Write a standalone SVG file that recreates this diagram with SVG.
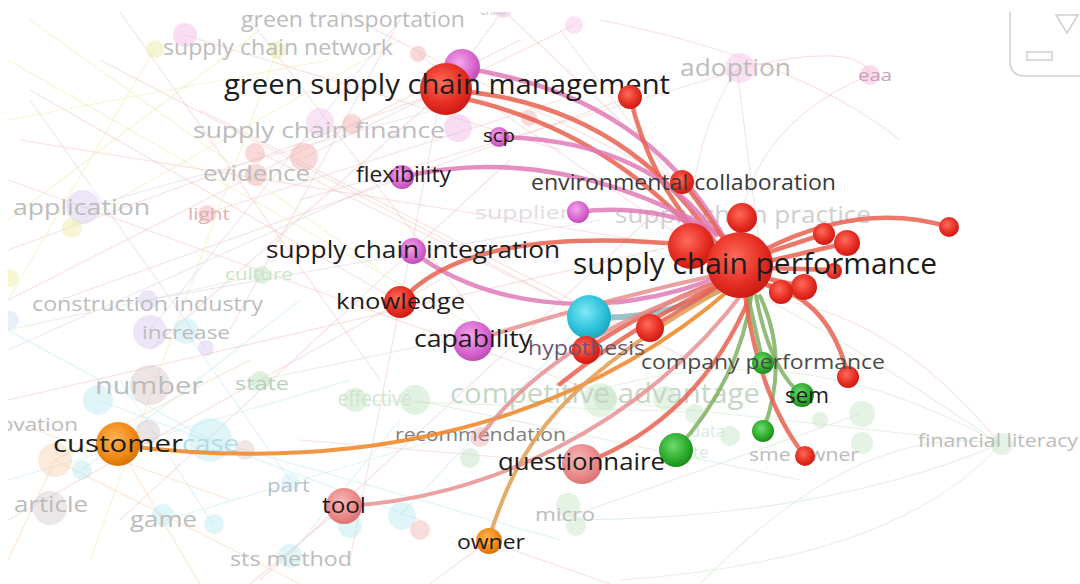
<svg xmlns="http://www.w3.org/2000/svg" width="1080" height="584" viewBox="0 0 1080 584">
<style>
text{font-family:"Open Sans","Noto Sans","DejaVu Sans",sans-serif}
.lb{fill:#1c1c1c}
.fa{fill:#bcbcbc}
.bg line,.bg path{fill:none;stroke-width:1.1}
.bp{stroke:#f3c4c4;opacity:.5}
.by{stroke:#ecefb8;opacity:.6}
.bl{stroke:#ded0ee;opacity:.5}
.bc{stroke:#c8ecf2;opacity:.6}
.bo{stroke:#f8d8b8;opacity:.6}
.bgn{stroke:#d4ead4;opacity:.65}
.e{fill:none;stroke-linecap:round}
.er{stroke:#e8604f;stroke-width:4.5;opacity:.85}
.ep{stroke:#e07ab6;stroke-width:4.5;opacity:.85}
.eo{stroke:#f08c30;stroke-width:4;opacity:.9}
.et{stroke:#e2a25a;stroke-width:4;opacity:.9}
.eg{stroke:#7fb062;stroke-width:4;opacity:.85}
.es{stroke:#e89090;stroke-width:4;opacity:.85}
.fn{opacity:.45}
</style>
<defs>
<radialGradient id="gR" cx="0.42" cy="0.38" r="0.7"><stop offset="0" stop-color="#ff6b5a"/><stop offset="0.6" stop-color="#e52c22"/><stop offset="1" stop-color="#c2160f"/></radialGradient>
<radialGradient id="gP" cx="0.42" cy="0.38" r="0.7"><stop offset="0" stop-color="#f4a8ec"/><stop offset="0.6" stop-color="#d865d0"/><stop offset="1" stop-color="#b446ab"/></radialGradient>
<radialGradient id="gC" cx="0.42" cy="0.38" r="0.7"><stop offset="0" stop-color="#80e8f6"/><stop offset="0.6" stop-color="#2cc2da"/><stop offset="1" stop-color="#1a9cb4"/></radialGradient>
<radialGradient id="gO" cx="0.42" cy="0.38" r="0.7"><stop offset="0" stop-color="#ffb454"/><stop offset="0.6" stop-color="#f08a18"/><stop offset="1" stop-color="#d06a00"/></radialGradient>
<radialGradient id="gG" cx="0.42" cy="0.38" r="0.7"><stop offset="0" stop-color="#6edc6e"/><stop offset="0.6" stop-color="#2dab2d"/><stop offset="1" stop-color="#168216"/></radialGradient>
<radialGradient id="gS" cx="0.42" cy="0.38" r="0.7"><stop offset="0" stop-color="#f9b8b8"/><stop offset="0.6" stop-color="#eb8a8a"/><stop offset="1" stop-color="#d86a6a"/></radialGradient>
<clipPath id="plot"><rect x="8" y="12" width="1072" height="572"/></clipPath>
</defs>
<rect width="1080" height="584" fill="#ffffff"/>
<g clip-path="url(#plot)">
<g class="bg" id="background-links">
<line class="bp" x1="20" y1="140" x2="700" y2="250"/>
<line class="bp" x1="100" y1="60" x2="560" y2="300"/>
<line class="bp" x1="250" y1="20" x2="480" y2="320"/>
<line class="bp" x1="8" y1="250" x2="445" y2="90"/>
<line class="bp" x1="150" y1="350" x2="445" y2="90"/>
<line class="bp" x1="300" y1="200" x2="740" y2="70"/>
<line class="bp" x1="560" y1="30" x2="738" y2="265"/>
<line class="bp" x1="200" y1="110" x2="690" y2="360"/>
<line class="bp" x1="60" y1="300" x2="630" y2="97"/>
<line class="bp" x1="400" y1="20" x2="230" y2="330"/>
<line class="bp" x1="8" y1="180" x2="620" y2="400"/>
<line class="bp" x1="350" y1="560" x2="440" y2="100"/>
<line class="bp" x1="120" y1="520" x2="510" y2="160"/>
<line class="bp" x1="8" y1="400" x2="700" y2="240"/>
<line class="bp" x1="260" y1="580" x2="680" y2="190"/>
<line class="bp" x1="305" y1="157" x2="574" y2="25"/>
<line class="bp" x1="258" y1="152" x2="600" y2="320"/>
<line class="bp" x1="418" y1="54" x2="700" y2="250"/>
<line class="bp" x1="185" y1="35" x2="560" y2="150"/>
<line class="bp" x1="208" y1="213" x2="560" y2="100"/>
<line class="bp" x1="488" y1="541" x2="430" y2="584"/>
<line class="bp" x1="488" y1="541" x2="610" y2="584"/>
<line class="bp" x1="344" y1="506" x2="250" y2="584"/>
<line class="bp" x1="300" y1="440" x2="580" y2="464"/>
<line class="bp" x1="503" y1="10" x2="445" y2="90"/>
<line class="bp" x1="503" y1="10" x2="620" y2="120"/>
<line class="bp" x1="8" y1="520" x2="440" y2="280"/>
<line class="bp" x1="30" y1="90" x2="400" y2="302"/>
<line class="bp" x1="120" y1="12" x2="380" y2="380"/>
<line class="bp" x1="8" y1="300" x2="520" y2="40"/>
<line class="bp" x1="340" y1="12" x2="680" y2="182"/>
<line class="by" x1="8" y1="60" x2="480" y2="330"/>
<line class="by" x1="155" y1="48" x2="8" y2="300"/>
<line class="by" x1="277" y1="50" x2="90" y2="560"/>
<line class="by" x1="8" y1="120" x2="330" y2="60"/>
<line class="by" x1="30" y1="20" x2="380" y2="270"/>
<line class="by" x1="8" y1="220" x2="260" y2="30"/>
<line class="by" x1="72" y1="225" x2="400" y2="40"/>
<line class="bl" x1="83" y1="208" x2="470" y2="100"/>
<line class="bl" x1="150" y1="330" x2="400" y2="20"/>
<line class="bl" x1="8" y1="350" x2="410" y2="170"/>
<line class="bl" x1="148" y1="300" x2="600" y2="220"/>
<line class="bl" x1="205" y1="348" x2="30" y2="100"/>
<line class="bc" x1="98" y1="400" x2="420" y2="520"/>
<line class="bc" x1="210" y1="440" x2="560" y2="540"/>
<line class="bc" x1="8" y1="480" x2="350" y2="380"/>
<line class="bc" x1="163" y1="521" x2="470" y2="430"/>
<line class="bc" x1="290" y1="555" x2="400" y2="420"/>
<line class="bc" x1="82" y1="470" x2="300" y2="300"/>
<line class="bc" x1="400" y1="515" x2="589" y2="317"/>
<line class="bc" x1="213" y1="524" x2="120" y2="380"/>
<line class="bc" x1="185" y1="330" x2="290" y2="480"/>
<line class="bc" x1="8" y1="330" x2="210" y2="440"/>
<line class="bo" x1="55" y1="460" x2="8" y2="560"/>
<line class="bo" x1="55" y1="460" x2="300" y2="584"/>
<line class="bo" x1="118" y1="445" x2="200" y2="584"/>
<line class="bo" x1="8" y1="420" x2="230" y2="500"/>
<line class="bo" x1="55" y1="460" x2="250" y2="360"/>
<path class="bgn" d="M1000,444 Q800,330 600,390"/>
<path class="bgn" d="M1000,444 Q820,520 560,520"/>
<path class="bgn" d="M1000,444 Q760,280 650,250"/>
<path class="bgn" d="M700,584 Q860,420 1000,444"/>
<path class="bgn" d="M1000,444 Q900,560 620,580"/>
<line class="bgn" x1="860" y1="414" x2="560" y2="520"/>
<line class="bgn" x1="600" y1="400" x2="1000" y2="444"/>
<line class="bgn" x1="8" y1="330" x2="262" y2="275"/>
<line class="bgn" x1="260" y1="380" x2="640" y2="300"/>
<line class="bgn" x1="415" y1="400" x2="800" y2="480"/>
<line class="bgn" x1="355" y1="400" x2="690" y2="412"/>
<path class="bp" d="M737,69 Q860,40 870,75"/>
<path class="bp" d="M870,75 Q760,120 740,220"/>
<line class="bp" x1="737" y1="69" x2="760" y2="250"/>
<path class="bp" d="M737,69 Q690,140 690,240"/>
<path class="bp" d="M600,20 Q800,60 900,140"/>
<path class="bp" d="M780,300 Q900,320 1000,444"/>
</g>
<g id="faint-nodes">
<g id="n-green-transportation"><text class="fa" x="241" y="27" font-size="21" textLength="224" lengthAdjust="spacingAndGlyphs">green transportation</text></g>
<g id="n-child"><circle class="fn" cx="503" cy="9" r="9" fill="#f0b8e0"/><text x="480" y="15" font-size="16" fill="#c8c8c8" textLength="26" lengthAdjust="spacingAndGlyphs">child</text></g>
<g id="n-supply-chain-network"><circle class="fn" cx="155" cy="49" r="9" fill="#e2ec9c"/><circle class="fn" cx="277" cy="50" r="9" fill="#e2ec9c"/><circle class="fn" cx="185" cy="35" r="12" fill="#f2b4e4"/><text class="fa" x="163" y="55" font-size="21" textLength="230" lengthAdjust="spacingAndGlyphs">supply chain network</text></g>
<g id="n-misc1"><circle class="fn" cx="418" cy="54" r="8" fill="#f2a8a8"/><circle class="fn" cx="574" cy="25" r="9" fill="#f2c0e8"/><circle class="fn" cx="529" cy="118" r="8" fill="#f2b0b0"/></g>
<g id="n-adoption"><circle class="fn" cx="740" cy="68" r="15" fill="#f4bce8"/><text class="fa" x="680" y="76" font-size="24" textLength="111" lengthAdjust="spacingAndGlyphs">adoption</text></g>
<g id="n-eaa"><circle class="fn" cx="870" cy="75" r="10" fill="#f2b4d4"/><text x="858" y="81" font-size="17" fill="#c9a0b8" textLength="34" lengthAdjust="spacingAndGlyphs">eaa</text></g>
<g id="n-supply-chain-finance"><circle class="fn" cx="320" cy="122" r="14" fill="#f2c4ee"/><circle class="fn" cx="352" cy="124" r="10" fill="#f2a8a8"/><circle class="fn" cx="458" cy="128" r="14" fill="#f0b4e8"/><text class="fa" x="193" y="138" font-size="22" textLength="252" lengthAdjust="spacingAndGlyphs">supply chain finance</text></g>
<g id="n-evidence"><circle class="fn" cx="255" cy="153" r="10" fill="#f2a8a8"/><circle class="fn" cx="304" cy="157" r="14" fill="#f2a8a8"/><circle class="fn" cx="256" cy="175" r="11" fill="#f2a8a8"/><text class="fa" x="203" y="181" font-size="22" textLength="107" lengthAdjust="spacingAndGlyphs">evidence</text></g>
<g id="n-application"><circle class="fn" cx="83" cy="207" r="17" fill="#d8c8f0"/><circle class="fn" cx="72" cy="228" r="10" fill="#ecec9c"/><text class="fa" x="13" y="215" font-size="21" textLength="137" lengthAdjust="spacingAndGlyphs">application</text></g>
<g id="n-light"><circle class="fn" cx="207" cy="214" r="9" fill="#f0a8b0"/><text x="188" y="220" font-size="16" fill="#e0b0b0" textLength="42" lengthAdjust="spacingAndGlyphs">light</text></g>
<g id="n-supplier"><text x="475" y="219" font-size="18" fill="#e4dce4" textLength="95" lengthAdjust="spacingAndGlyphs">supplier</text></g>
<g id="n-supply-chain-practice"><text x="615" y="223" font-size="23" fill="#cfcfcf" textLength="256" lengthAdjust="spacingAndGlyphs">supply chain practice</text></g>
<g id="n-left-edge"><circle class="fn" cx="10" cy="278" r="9" fill="#ecec9c"/><circle class="fn" cx="10" cy="320" r="9" fill="#d0d8f4"/></g>
<g id="n-culture"><circle class="fn" cx="262" cy="275" r="9" fill="#b8e0b8"/><text x="225" y="280" font-size="17" fill="#c8e4c8" textLength="68" lengthAdjust="spacingAndGlyphs">culture</text></g>
<g id="n-construction-industry"><circle class="fn" cx="148" cy="300" r="10" fill="#d8c8f0"/><text class="fa" x="32" y="311" font-size="20" textLength="231" lengthAdjust="spacingAndGlyphs">construction industry</text></g>
<g id="n-increase"><circle class="fn" cx="150" cy="332" r="17" fill="#d8c8f0"/><circle class="fn" cx="186" cy="331" r="13" fill="#b8e8f0"/><circle class="fn" cx="206" cy="348" r="8" fill="#d8c8f0"/><text class="fa" x="142" y="339" font-size="19" textLength="88" lengthAdjust="spacingAndGlyphs">increase</text></g>
<g id="n-number"><circle class="fn" cx="150" cy="385" r="20" fill="#d8c4c4"/><circle class="fn" cx="98" cy="400" r="15" fill="#b8e8f0"/><text class="fa" x="95" y="394" font-size="24" textLength="108" lengthAdjust="spacingAndGlyphs">number</text></g>
<g id="n-state"><circle class="fn" cx="260" cy="381" r="10" fill="#b8e0b8"/><text x="235" y="390" font-size="18" fill="#b8d0c0" textLength="54" lengthAdjust="spacingAndGlyphs">state</text></g>
<g id="n-effective"><circle class="fn" cx="355" cy="400" r="12" fill="#bfe2bf"/><circle class="fn" cx="415" cy="400" r="15" fill="#bfe2bf"/><text x="338" y="406" font-size="22" fill="#d0e4d0" textLength="74" lengthAdjust="spacingAndGlyphs">effective</text></g>
<g id="n-competitive-advantage"><circle class="fn" cx="600" cy="400" r="17" fill="#c4e4c4"/><circle class="fn" cx="665" cy="398" r="12" fill="#c4e4c4"/><circle class="fn" cx="605" cy="398" r="12" fill="#c4e4c4"/><circle class="fn" cx="695" cy="414" r="10" fill="#c4e4c4"/><text x="450" y="403" font-size="27" fill="#c6d6c6" textLength="310" lengthAdjust="spacingAndGlyphs">competitive advantage</text></g>
<g id="n-innovation"><circle class="fn" cx="55" cy="460" r="17" fill="#f8d0b0"/><circle class="fn" cx="82" cy="470" r="10" fill="#b8e8f0"/><text class="fa" x="0" y="431" font-size="19" textLength="78" lengthAdjust="spacingAndGlyphs">ovation</text></g>
<g id="n-case"><circle class="fn" cx="148" cy="432" r="12" fill="#d0c4c4"/><circle class="fn" cx="210" cy="440" r="22" fill="#b8e8f0"/><circle class="fn" cx="245" cy="450" r="10" fill="#e0c8c8"/><text x="182" y="452" font-size="24" fill="#b0dce6" textLength="57" lengthAdjust="spacingAndGlyphs">case</text></g>
<g id="n-recommendation"><circle class="fn" cx="480" cy="437" r="10" fill="#f0a8b0"/><circle class="fn" cx="470" cy="458" r="10" fill="#bfe2bf"/><text x="395" y="441" font-size="18" fill="#808080" textLength="171" lengthAdjust="spacingAndGlyphs">recommendation</text></g>
<g id="n-green-cluster"><circle class="fn" cx="730" cy="436" r="10" fill="#c4e4c4"/><circle class="fn" cx="820" cy="420" r="8" fill="#c4e4c4"/><circle class="fn" cx="862" cy="414" r="13" fill="#c4e4c4"/><circle class="fn" cx="862" cy="443" r="11" fill="#c4e4c4"/><text x="690" y="437" font-size="17" fill="#dce8dc">data</text><text x="693" y="458" font-size="17" fill="#dce8dc">te</text></g>
<g id="n-sme-owner"><text class="fa" x="749" y="461" font-size="18" textLength="110" lengthAdjust="spacingAndGlyphs">sme owner</text></g>
<g id="n-financial-literacy"><circle class="fn" cx="1002" cy="444" r="11" fill="#c4e4c4"/><text class="fa" x="918" y="447" font-size="19" textLength="160" lengthAdjust="spacingAndGlyphs">financial literacy</text></g>
<g id="n-article"><circle class="fn" cx="50" cy="508" r="17" fill="#d8cccc"/><text class="fa" x="14" y="512" font-size="22" textLength="74" lengthAdjust="spacingAndGlyphs">article</text></g>
<g id="n-part"><circle class="fn" cx="290" cy="482" r="9" fill="#c8ecf2"/><text x="267" y="492" font-size="19" fill="#b4c4cc" textLength="43" lengthAdjust="spacingAndGlyphs">part</text></g>
<g id="n-game"><circle class="fn" cx="163" cy="515" r="11" fill="#b8e8f0"/><circle class="fn" cx="214" cy="524" r="10" fill="#b8e8f0"/><text class="fa" x="130" y="527" font-size="21" textLength="67" lengthAdjust="spacingAndGlyphs">game</text></g>
<g id="n-tool-area"><circle class="fn" cx="350" cy="526" r="12" fill="#b8e8f0"/><circle class="fn" cx="402" cy="516" r="14" fill="#b8e8f0"/><circle class="fn" cx="420" cy="530" r="10" fill="#f2b4b4"/></g>
<g id="n-micro"><circle class="fn" cx="568" cy="505" r="12" fill="#c4e4c4"/><circle class="fn" cx="576" cy="526" r="10" fill="#c4e4c4"/><text class="fa" x="535" y="521" font-size="19" textLength="60" lengthAdjust="spacingAndGlyphs">micro</text></g>
<g id="n-sts-method"><circle class="fn" cx="290" cy="556" r="12" fill="#b8e8f0"/><text class="fa" x="230" y="566" font-size="20" textLength="122" lengthAdjust="spacingAndGlyphs">sts method</text></g>
</g>
<g id="connectors">
<path class="e er" d="M445,90 Q625,100 720,250"/>
<path class="e er" d="M452,96 Q600,125 702,240"/>
<path class="e ep" d="M462,68 Q650,95 728,245"/>
<path class="e er" d="M630,97 Q650,180 702,238"/>
<path class="e ep" d="M499,137 Q650,140 716,235"/>
<path class="e ep" d="M402,177 Q560,140 730,240"/>
<path class="e er" d="M683,182 Q712,220 736,258"/>
<path class="e ep" d="M578,212 Q640,204 702,226" stroke-width="6"/>
<path class="e ep" d="M413,251 C470,300 600,330 730,272"/>
<path class="e er" d="M400,302 Q470,222 700,246"/>
<path class="e" d="M589,317 Q665,322 736,282" stroke="#8fbcc4" stroke-width="6" opacity=".9"/>
<path class="e er" d="M650,328 Q700,300 738,272"/>
<path class="e es" d="M473,341 Q600,300 730,272"/>
<path class="e er" d="M586,350 Q660,300 736,276"/>
<path class="e eo" d="M118,445 C330,472 560,440 735,285"/>
<path class="e et" d="M488,541 C520,440 560,380 735,282"/>
<path class="e es" d="M344,506 C480,500 640,430 745,290"/>
<path class="e er" d="M582,464 Q700,420 752,292"/>
<path class="e es" d="M480,437 Q560,330 735,280" stroke-width="3"/>
<path class="e er" d="M560,384 Q640,320 730,280" stroke-width="3"/>
<path class="e eg" d="M676,450 Q740,380 752,292"/>
<path class="e eg" d="M763,363 L748,296"/>
<path class="e eg" d="M802,395 Q770,370 756,296"/>
<path class="e eg" d="M763,431 Q790,360 760,296"/>
<path class="e er" d="M745,295 Q760,400 805,456"/>
<path class="e er" d="M848,376 Q830,300 768,285"/>
<path class="e er" d="M949,227 Q860,200 760,252"/>
<path class="e er" d="M824,234 L760,255"/>
<path class="e er" d="M847,243 L765,262"/>
<path class="e er" d="M833,270 L768,268"/>
<path class="e er" d="M805,287 L765,278"/>
<path class="e er" d="M782,292 L760,282"/>
<path class="e er" d="M741,217 L738,240"/>
</g>
<g id="n-gscm"><circle cx="462" cy="67" r="18" fill="url(#gP)"/><circle cx="446" cy="89" r="26" fill="url(#gR)"/><text class="lb" x="224" y="94" font-size="28" textLength="446" lengthAdjust="spacingAndGlyphs">green supply chain management</text></g>
<g id="n-red-top"><circle cx="630" cy="97" r="12" fill="url(#gR)"/></g>
<g id="n-scp"><circle cx="499" cy="137" r="10" fill="url(#gP)"/><text class="lb" x="483" y="142" font-size="19" textLength="32" lengthAdjust="spacingAndGlyphs">scp</text></g>
<g id="n-flexibility"><circle cx="402" cy="177" r="12" fill="url(#gP)"/><text class="lb" x="356" y="182" font-size="21" textLength="95" lengthAdjust="spacingAndGlyphs">flexibility</text></g>
<g id="n-environmental-collaboration"><circle cx="682" cy="182" r="12" fill="url(#gR)"/><text x="531" y="190" font-size="21" fill="#3a3a3a" textLength="305" lengthAdjust="spacingAndGlyphs">environmental collaboration</text></g>
<g id="n-supplier-node"><circle cx="578" cy="212" r="11" fill="url(#gP)"/></g>
<g id="n-supply-chain-integration"><circle cx="413" cy="251" r="13" fill="url(#gP)"/><text class="lb" x="266" y="258" font-size="23" textLength="294" lengthAdjust="spacingAndGlyphs">supply chain integration</text></g>
<g id="n-knowledge"><circle cx="400" cy="302" r="16" fill="url(#gR)"/><text class="lb" x="336" y="309" font-size="22" textLength="129" lengthAdjust="spacingAndGlyphs">knowledge</text></g>
<g id="n-cyan"><circle cx="589" cy="317" r="22" fill="url(#gC)"/></g>
<g id="n-red-mid"><circle cx="650" cy="328" r="14" fill="url(#gR)"/></g>
<g id="n-capability"><circle cx="473" cy="341" r="20" fill="url(#gP)"/><text class="lb" x="414" y="347" font-size="23" textLength="118" lengthAdjust="spacingAndGlyphs">capability</text></g>
<g id="n-hypothesis"><circle cx="586" cy="350" r="14" fill="url(#gR)"/><text x="528" y="355" font-size="20" fill="#6a566a" textLength="117" lengthAdjust="spacingAndGlyphs">hypothesis</text></g>
<g id="n-red-right"><circle cx="848" cy="377" r="11" fill="url(#gR)"/></g>
<g id="n-company-performance"><circle cx="763" cy="363" r="11" fill="url(#gG)"/><text x="641" y="369" font-size="20" fill="#4a4a4a" textLength="244" lengthAdjust="spacingAndGlyphs">company performance</text></g>
<g id="n-sem"><circle cx="802" cy="395" r="12" fill="url(#gG)"/><text class="lb" x="785" y="403" font-size="21" textLength="44" lengthAdjust="spacingAndGlyphs">sem</text></g>
<g id="n-green-low"><circle cx="763" cy="431" r="11" fill="url(#gG)"/></g>
<g id="n-red-low"><circle cx="805" cy="456" r="10" fill="url(#gR)"/></g>
<g id="n-green-big"><circle cx="676" cy="450" r="17" fill="url(#gG)"/></g>
<g id="n-questionnaire"><circle cx="582" cy="464" r="20" fill="url(#gS)"/><text class="lb" x="498" y="470" font-size="23" textLength="167" lengthAdjust="spacingAndGlyphs">questionnaire</text></g>
<g id="n-customer"><circle cx="118" cy="444" r="22" fill="url(#gO)"/><text class="lb" x="53" y="452" font-size="24" textLength="130" lengthAdjust="spacingAndGlyphs">customer</text></g>
<g id="n-tool"><circle cx="344" cy="506" r="18" fill="url(#gS)"/><text class="lb" x="322" y="513" font-size="21" textLength="44" lengthAdjust="spacingAndGlyphs">tool</text></g>
<g id="n-owner"><circle cx="489" cy="541" r="13" fill="url(#gO)"/><text class="lb" x="457" y="549" font-size="20" textLength="68" lengthAdjust="spacingAndGlyphs">owner</text></g>
<g id="n-red-cluster"><circle cx="949" cy="227" r="10" fill="url(#gR)"/><circle cx="824" cy="234" r="11" fill="url(#gR)"/><circle cx="847" cy="243" r="13" fill="url(#gR)"/><circle cx="834" cy="271" r="8" fill="url(#gR)"/><circle cx="804" cy="287" r="13" fill="url(#gR)"/><circle cx="781" cy="292" r="12" fill="url(#gR)"/><circle cx="742" cy="218" r="15" fill="url(#gR)"/><circle cx="691" cy="246" r="23" fill="url(#gR)"/></g>
<g id="n-supply-chain-performance"><circle cx="740" cy="265" r="33" fill="url(#gR)"/><text class="lb" x="573" y="274" font-size="29" textLength="364" lengthAdjust="spacingAndGlyphs">supply chain performance</text></g>
</g>
<g id="ui-control" fill="none" stroke="#cfcfcf" stroke-width="1.5">
<path d="M1010,12 V61 Q1010,76 1025,76 H1080"/>
<path d="M1056,15 H1078 L1067,33 Z"/>
<rect x="1027" y="52" width="25" height="8"/>
</g>
</svg>
